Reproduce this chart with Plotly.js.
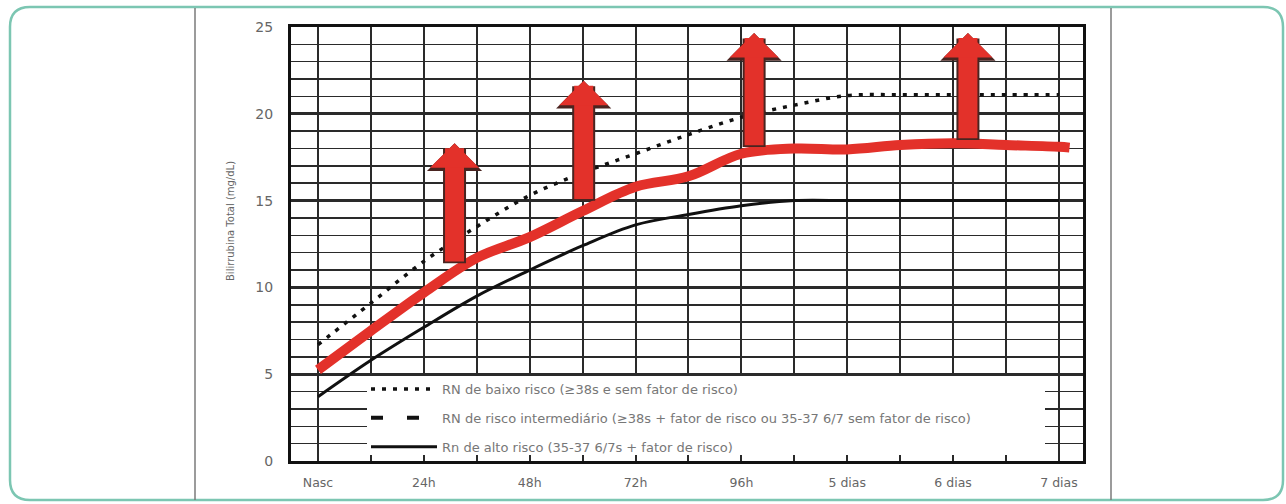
<!DOCTYPE html>
<html>
<head>
<meta charset="utf-8">
<script src="https://cdn.plot.ly/plotly-3.0.1.min.js"></script>
<style>
  html, body { margin: 0; padding: 0; background: #ffffff; }
  #chart { width: 1286px; height: 504px; }
</style>
</head>
<body>
<div id="chart"></div>
<script>
// ---- Data ----
const diasX = [0, 0.5, 1, 1.5, 2, 2.5, 3, 3.5, 4, 4.5, 5, 5.5, 6, 6.5, 7];
const rotulosX = ['Nasc', '24h', '48h', '72h', '96h', '5 dias', '6 dias', '7 dias'];
const posRotulosX = [0, 1, 2, 3, 4, 5, 6, 7];

const baixoRisco = [6.7, 9.1, 11.5, 13.5, 15.3, 16.6, 17.7, 18.8, 19.8, 20.5, 21.05, 21.1, 21.1, 21.1, 21.1];
const altoRisco = [3.7, 5.8, 7.7, 9.5, 11.0, 12.4, 13.6, 14.2, 14.7, 15.0, 15.0, 15.0, 15.0, 15.0, 15.0];
const riscoIntermediario = [5.25, 7.5, 9.7, 11.7, 12.8, 14.4, 15.8, 16.4, 17.7, 18.0, 18.0, 18.2, 18.3, 18.2, 18.1];

const linhaVermelhaX = [0, 0.5, 1, 1.5, 2, 2.5, 3, 3.5, 4, 4.5, 5, 5.5, 6, 6.5, 7, 7.1];
const linhaVermelha = [5.25, 7.5, 9.7, 11.7, 12.9, 14.4, 15.8, 16.4, 17.7, 18.0, 17.95, 18.2, 18.3, 18.2, 18.1, 18.05];

const setaX = [1.29, 2.51, 4.12, 6.14];
const setaDe = [11.3, 14.9, 18.0, 18.4];
const setaAte = [18.3, 21.9, 24.65, 24.65];

const nomes = [
  'RN de baixo risco (\u226538s e sem fator de risco)',
  'RN de risco intermedi\u00e1rio (\u226538s + fator de risco ou 35-37 6/7 sem fator de risco)',
  'Rn de alto risco (35-37 6/7s + fator de risco)'
];
const tituloY = 'Bilirrubina Total (mg/dL)';

// ---- Layout geometry ----
const W = 1286, H = 504;
const M = { l: 291, r: 203, t: 27, b: 43 };
const PW = W - M.l - M.r, PH = H - M.t - M.b;
const px = v => (v - M.l) / PW;
const py = v => (H - M.b - v) / PH;

const RED = '#e3312a';
const GRID = '#2a2a2a';
const FONT = 'DejaVu Sans, Arial, sans-serif';

const traces = [
  {
    x: diasX, y: baixoRisco, name: nomes[0], mode: 'lines', type: 'scatter',
    line: { color: '#111', width: 3.5, dash: '4px,7px', shape: 'spline' },
    legendgroup: 'a', legendrank: 1, hoverinfo: 'skip'
  },
  {
    x: diasX, y: altoRisco, name: nomes[2], mode: 'lines', type: 'scatter',
    line: { color: '#111', width: 3, shape: 'spline' },
    legendgroup: 'c', legendrank: 3, hoverinfo: 'skip'
  },
  {
    x: diasX, y: riscoIntermediario, name: nomes[1], mode: 'lines', type: 'scatter',
    line: { color: '#111', width: 4, dash: '12px,24px', shape: 'spline' },
    legendgroup: 'b', legendrank: 2, hoverinfo: 'skip'
  },
  {
    x: linhaVermelhaX, y: linhaVermelha, mode: 'lines', type: 'scatter',
    line: { color: RED, width: 10, shape: 'spline' },
    showlegend: false, hoverinfo: 'skip'
  }
];

// Arrows (outline + fill) built from the arrow arrays
const annotations = [];
setaX.forEach((x, i) => {
  annotations.push({
    x: x, y: setaAte[i], ax: x, ay: setaDe[i], xref: 'x', yref: 'y', axref: 'x', ayref: 'y',
    text: '', showarrow: true, arrowhead: 1, arrowwidth: 23, arrowsize: 0.4, arrowcolor: '#4a2420'
  });
  annotations.push({
    x: x, y: setaAte[i], ax: x, ay: setaDe[i] + 0.1, xref: 'x', yref: 'y', axref: 'x', ayref: 'y',
    text: '', showarrow: true, arrowhead: 1, arrowwidth: 19, arrowsize: 0.43, arrowcolor: RED
  });
});
annotations.push({
  xref: 'paper', yref: 'paper', x: px(231), y: py(221), text: tituloY, textangle: -90,
  showarrow: false, font: { family: FONT, size: 10, color: '#666' }, xanchor: 'center', yanchor: 'middle'
});

// Frame (rounded teal rectangle) and side gray rules
const fL = px(10), fR = px(1283), fT = py(7), fB = py(500);
const rx = 20 / PW, ry = 20 / PH;
const framePath = `M${fL + rx},${fT} L${fR - rx},${fT} Q${fR},${fT} ${fR},${fT - ry} L${fR},${fB + ry} Q${fR},${fB} ${fR - rx},${fB} L${fL + rx},${fB} Q${fL},${fB} ${fL},${fB + ry} L${fL},${fT - ry} Q${fL},${fT} ${fL + rx},${fT} Z`;

const shapes = [
  { type: 'path', xref: 'paper', yref: 'paper', path: framePath, line: { color: '#7cc6b2', width: 2.5 }, fillcolor: 'rgba(0,0,0,0)', layer: 'below' },
  { type: 'line', xref: 'paper', yref: 'paper', x0: px(195), x1: px(195), y0: py(8), y1: py(500), line: { color: '#7a7a7a', width: 1.5 } },
  { type: 'line', xref: 'paper', yref: 'paper', x0: px(1111), x1: px(1111), y0: py(8), y1: py(500), line: { color: '#7a7a7a', width: 1.5 } },
  // white legend panel over the grid
  { type: 'rect', xref: 'paper', yref: 'paper', x0: px(367), x1: px(1045), y0: py(455), y1: py(376), fillcolor: '#ffffff', line: { width: 0 }, layer: 'above' }
];

const layout = {
  width: W, height: H,
  margin: M,
  paper_bgcolor: '#ffffff', plot_bgcolor: '#ffffff',
  font: { family: FONT, color: '#666' },
  showlegend: true,
  legend: {
    x: px(366), y: py(374), xanchor: 'left', yanchor: 'top',
    bgcolor: 'rgba(0,0,0,0)', borderwidth: 0,
    font: { family: FONT, size: 13, color: '#777' },
    traceorder: 'grouped', tracegroupgap: 9, itemwidth: 66
  },
  xaxis: {
    range: [-0.255, 7.227], tickmode: 'array', tickvals: posRotulosX, ticktext: rotulosX,
    showgrid: true, gridcolor: GRID, gridwidth: 2,
    minor: { dtick: 0.5, tick0: 0, showgrid: true, gridcolor: GRID, gridwidth: 2 },
    showline: true, mirror: true, linecolor: '#111', linewidth: 3,
    zeroline: false, ticks: '', ticklabelstandoff: 8,
    tickfont: { family: FONT, size: 12.5, color: '#666' }, fixedrange: true
  },
  yaxis: {
    range: [0, 25], tickmode: 'linear', tick0: 0, dtick: 5,
    showgrid: true, gridcolor: GRID, gridwidth: 3,
    minor: { dtick: 1, showgrid: true, gridcolor: GRID, gridwidth: 1.5 },
    showline: true, mirror: true, linecolor: '#111', linewidth: 3,
    zeroline: false, ticks: '', ticklabelstandoff: 12,
    tickfont: { family: FONT, size: 14, color: '#666' },
    fixedrange: true
  },
  shapes: shapes,
  annotations: annotations
};

Plotly.newPlot('chart', traces, layout, { displayModeBar: false, staticPlot: true });
</script>
</body>
</html>
